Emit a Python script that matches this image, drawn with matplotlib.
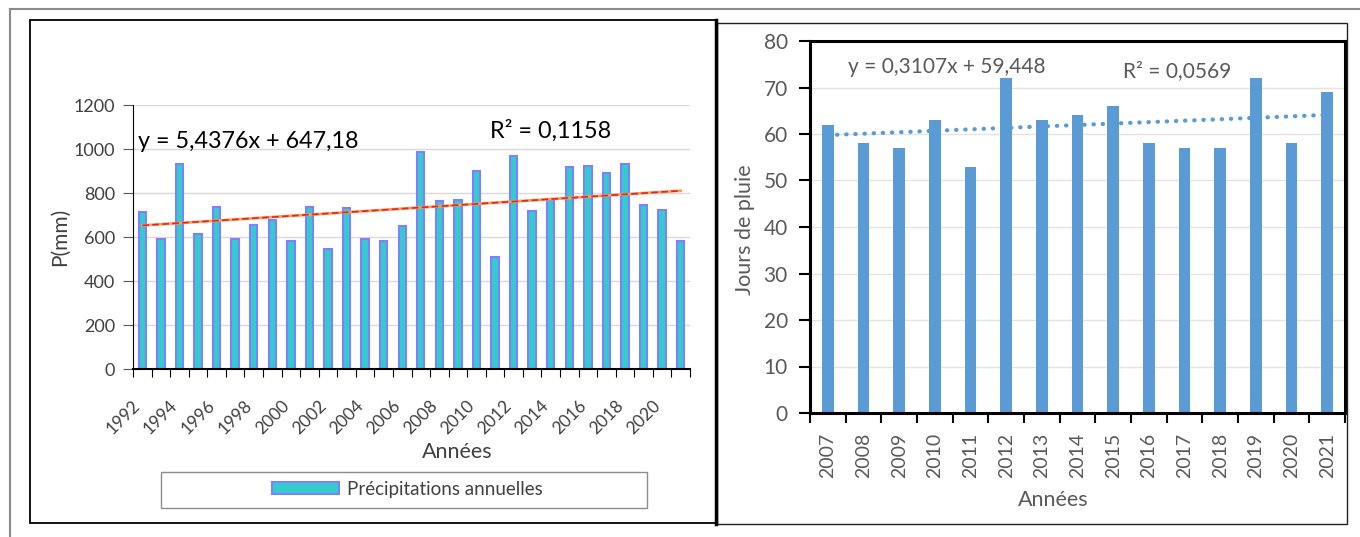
import matplotlib
matplotlib.use("Agg")
import matplotlib.pyplot as plt
import matplotlib.transforms as mtransforms
from matplotlib.patches import Rectangle
from matplotlib.lines import Line2D

W, H = 1360, 537

# Précipitations annuelles (mm), 1992-2021
annees_p = list(range(1992, 2022))
precip = [714, 592, 934, 615, 737, 592, 653, 676, 580, 737,
          547, 734, 592, 580, 650, 987, 763, 770, 901, 509,
          968, 717, 770, 919, 924, 893, 933, 747, 722, 580]
pente_p, origine_p, r2_p = 5.4376, 647.18, 0.1158

# Jours de pluie, 2007-2021
annees_j = list(range(2007, 2022))
jours = [62, 58, 57, 63, 53, 72, 63, 64, 66, 58, 57, 57, 72, 58, 69]
pente_j, origine_j, r2_j = 0.3107, 59.448, 0.0569

plt.rcParams['font.family'] = ['Lato', 'DejaVu Sans']

GRIS = '#595959'


def box(l, t, r, b):
    # pixel box -> figure fraction
    return [l / W, 1 - b / H, (r - l) / W, (b - t) / H]


def fx(x):
    return x / W


def fy(y):
    return 1 - y / H


def fmt(v, d):
    return ("{:." + str(d) + "f}").format(v).replace(".", ",")


fig = plt.figure(figsize=(W / 100, H / 100), dpi=100)

# cadres
fig.add_artist(Line2D([fx(10), 1], [fy(9), fy(9)], color='#8c8c8c', lw=1.5))
fig.add_artist(Line2D([fx(10), fx(10)], [fy(9), 0], color='#8c8c8c', lw=1.5))
fig.add_artist(Rectangle((fx(30), fy(523)), fx(716) - fx(30), fy(20) - fy(523),
                         fill=False, ec='black', lw=1.3, transform=fig.transFigure))
fig.add_artist(Line2D([fx(716), fx(716)], [fy(20), fy(524)], color='black', lw=2.5))
fig.add_artist(Rectangle((fx(717), fy(524)), fx(1347) - fx(717), fy(23) - fy(524),
                         fill=False, ec='#222222', lw=1.0, transform=fig.transFigure))

# ---- graphique de gauche : précipitations ----
ax1 = fig.add_axes(box(133, 105, 690, 369))
x1 = list(range(len(precip)))
barres = ax1.bar(x1, precip, width=0.4, color='#33CCCC', edgecolor='#8080FF',
                 linewidth=1.5, zorder=2, label='Précipitations annuelles')
tend_p = [pente_p * (i + 1) + origine_p for i in x1]
ax1.plot(x1, tend_p, color='#F5A05A', lw=2, zorder=3)
ax1.plot(x1, tend_p, color='#E8231E', lw=1.2, ls=(0, (4, 2)), zorder=4)
ax1.set_xlim(-0.5, len(precip) - 0.5)
ax1.set_ylim(0, 1200)
ax1.set_yticks(range(0, 1201, 200))
ax1.yaxis.grid(True, color='#D9D9D9', lw=1)
ax1.set_axisbelow(True)
for s in ['top', 'right']:
    ax1.spines[s].set_visible(False)
ax1.spines['left'].set_color('black')
ax1.spines['bottom'].set_linewidth(1.5)
ax1.set_xticks([i - 0.5 for i in range(len(precip) + 1)])
ax1.set_xticklabels([])
ax1.set_xticks(x1[::2], minor=True)
ax1.set_xticklabels([str(a) for a in annees_p[::2]], minor=True, rotation=45,
                    ha='right', va='top', rotation_mode='anchor')
ax1.tick_params(axis='x', which='major', length=6, direction='out', color='black')
ax1.tick_params(axis='x', which='minor', length=0, pad=14, labelsize=12.5, labelcolor='#404040')
ax1.tick_params(axis='y', length=7, color=GRIS, labelsize=13, labelcolor='#404040', pad=6)
decal = mtransforms.ScaledTranslation(-10 / 100, -9 / 100, fig.dpi_scale_trans)
for lbl in ax1.get_xticklabels(minor=True):
    lbl.set_transform(lbl.get_transform() + decal)

fig.text(fx(138), fy(141), "y = " + fmt(pente_p, 4) + "x + " + fmt(origine_p, 2),
         fontsize=16.8, va='center', ha='left', color='black')
fig.text(fx(490), fy(131), "R² = " + fmt(r2_p, 4),
         fontsize=16.8, va='center', ha='left', color='black')
fig.text(fx(60), fy(237), "P(mm)", rotation=90, fontsize=15, color='#404040',
         ha='center', va='center')
fig.text(fx(457), fy(452), "Années", fontsize=15.5, color='#404040', ha='center', va='center')

fig.add_artist(Rectangle((fx(161), fy(508)), fx(647) - fx(161), fy(472) - fy(508),
                         fill=False, ec='#8c8c8c', lw=1.0, transform=fig.transFigure))
ax1.legend(handles=[barres], loc='center', bbox_to_anchor=(fx(407), fy(489)),
           bbox_transform=fig.transFigure, frameon=False, fontsize=13.5,
           handlelength=3.6, handleheight=0.65, handletextpad=0.4, labelcolor='#404040')

# ---- graphique de droite : jours de pluie ----
ax2 = fig.add_axes(box(810, 41, 1345, 413))
x2 = list(range(len(jours)))
ax2.bar(x2, jours, width=0.33, color='#5B9BD5', zorder=2)
tend_j = [pente_j * (i + 1) + origine_j for i in x2]
ax2.plot(x2, tend_j, color='#5B9BD5', lw=3, ls=(0, (0.1, 2.1)),
         dash_capstyle='round', zorder=3)
ax2.set_xlim(-0.5, len(jours) - 0.5)
ax2.set_ylim(0, 80)
ax2.set_yticks(range(0, 81, 10))
ax2.yaxis.grid(True, color='#E3E3E3', lw=1)
ax2.set_axisbelow(True)
for s in ax2.spines.values():
    s.set_linewidth(2.2)
    s.set_color('black')
ax2.set_xticks([i - 0.5 for i in range(len(jours) + 1)])
ax2.set_xticklabels([])
ax2.set_xticks(x2, minor=True)
ax2.set_xticklabels([str(a) for a in annees_j], minor=True, rotation=90)
ax2.tick_params(axis='x', which='major', length=7, width=1.5, direction='out', color='black')
ax2.tick_params(axis='x', which='minor', length=0, pad=14, labelsize=14, labelcolor=GRIS)
ax2.tick_params(axis='y', length=8, width=1.5, color='black', labelsize=15,
                labelcolor=GRIS, pad=8)

fig.text(fx(848), fy(67), "y = " + fmt(pente_j, 4) + "x + " + fmt(origine_j, 3),
         fontsize=15, va='center', ha='left', color=GRIS)
fig.text(fx(1123), fy(71), "R² = " + fmt(r2_j, 4),
         fontsize=15, va='center', ha='left', color=GRIS)
fig.text(fx(745), fy(230), "Jours de pluie", rotation=90, fontsize=15.5, color=GRIS,
         ha='center', va='center')
fig.text(fx(1053), fy(500), "Années", fontsize=15.5, color=GRIS, ha='center', va='center')

fig.savefig("out.png", dpi=100)
